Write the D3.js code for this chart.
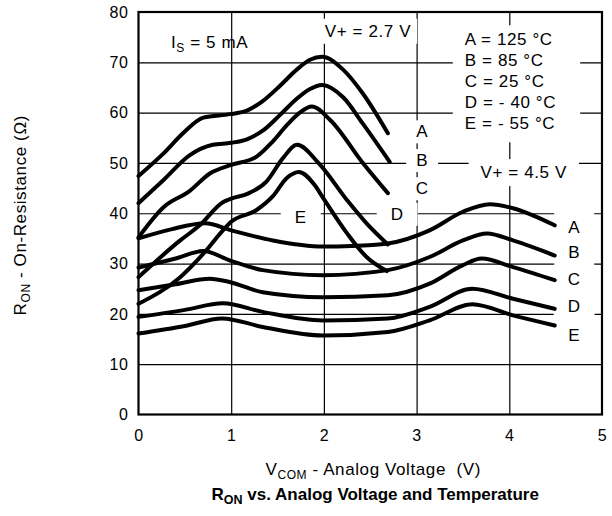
<!DOCTYPE html>
<html>
<head>
<meta charset="utf-8">
<script src="https://cdn.jsdelivr.net/npm/d3@7"></script>
<style>
  body { margin: 0; background: #fff; }
  text { font-family: "Liberation Sans", Arial, sans-serif; fill: #000; white-space: pre; }
</style>
</head>
<body>
<svg id="chart" width="612" height="516"></svg>
<script>
// V+ = 2.7 V curves: [VCOM (V), RON (ohm)]
const a27 = [[0,47.4],[0.27,51.9],[0.48,55.9],[0.7,59],[0.99,59.7],[1.17,60.4],[1.34,62.3],[1.53,65.4],[1.71,68.6],[1.85,70.5],[1.98,71.1],[2.21,68.5],[2.42,63.8],[2.69,55.9]];
const b27 = [[0,42],[0.27,46.6],[0.55,51.5],[0.8,53.6],[1.0,54],[1.17,54.7],[1.34,56.4],[1.53,59.6],[1.71,62.8],[1.85,64.7],[1.98,65.5],[2.21,63],[2.42,57.8],[2.71,50.2]];
const c27 = [[0,35.2],[0.27,41.2],[0.55,44.4],[0.77,47.9],[1.0,49.6],[1.27,51.2],[1.45,54.3],[1.6,57.5],[1.74,60],[1.87,61.2],[2.07,58.5],[2.42,50],[2.69,44]];
const d27 = [[0,27.3],[0.45,34.6],[0.66,37.6],[0.91,42.2],[1.0,42.9],[1.18,43.9],[1.38,46.3],[1.56,51],[1.71,53.6],[1.95,49.8],[2.25,42.6],[2.46,38],[2.69,33.8]];
const e27 = [[0,22],[0.45,27.3],[0.73,32.6],[0.91,36.6],[1.0,38.3],[1.27,40.6],[1.45,43.4],[1.6,47],[1.73,48.2],[1.9,45.6],[2.0,42.8],[2.25,36],[2.46,31.3],[2.68,28.5]];

// V+ = 4.5 V curves
const a45 = [[0,35],[0.35,36.8],[0.72,38],[1.0,36.6],[1.45,34.6],[1.99,33.4],[2.3,33.5],[2.69,34],[3.14,36.6],[3.5,40.3],[3.79,41.8],[4.04,41],[4.49,37.6]];
const b45 = [[0,29.2],[0.4,31],[0.7,32.5],[0.99,30.6],[1.34,28.7],[1.99,27.7],[2.69,28.7],[3.14,31.3],[3.5,34.6],[3.76,36],[4.04,34.6],[4.49,31.6]];
const c45 = [[0,24.7],[0.4,25.9],[0.77,27],[0.99,26.3],[1.34,24.3],[1.99,23.3],[2.69,23.7],[3.14,26],[3.5,29.7],[3.7,31],[4.04,29.3],[4.49,26.7]];
const d45 = [[0,19.4],[0.5,20.8],[0.91,22.1],[1.34,20.4],[1.99,18.7],[2.69,19.1],[3.14,21.4],[3.6,25],[4.04,23],[4.49,21]];
const e45 = [[0,16.1],[0.5,17.6],[0.9,19.1],[1.34,17.4],[1.99,15.7],[2.69,16.4],[3.14,18.7],[3.6,21.9],[4.04,19.7],[4.49,17.7]];

const xTicks = [0, 1, 2, 3, 4, 5];
const yTicks = [0, 10, 20, 30, 40, 50, 60, 70, 80];
const curveNames = ["A", "B", "C", "D", "E"];
const legendLines = ["A = 125 °C", "B = 85 °C", "C = 25 °C", "D = - 40 °C", "E = - 55 °C"];

const svg = d3.select("#chart");
const pLeft = 138.5, pRight = 602, pTop = 12, pBottom = 414.5;

const x = d3.scaleLinear().domain([0, 5]).range([pLeft, pRight]);
const y = d3.scaleLinear().domain([0, 80]).range([pBottom, pTop]);

// Grid lines
svg.append("g")
  .attr("transform", "translate(0," + pBottom + ")")
  .call(d3.axisBottom(x).tickValues(xTicks.slice(1, -1)).tickSize(-(pBottom - pTop)).tickFormat(""))
  .call(g => g.select(".domain").remove())
  .selectAll("line").attr("stroke", "#000").attr("stroke-width", 1.2);
svg.append("g")
  .attr("transform", "translate(" + pLeft + ",0)")
  .call(d3.axisLeft(y).tickValues(yTicks.slice(1, -1)).tickSize(-(pRight - pLeft)).tickFormat(""))
  .call(g => g.select(".domain").remove())
  .selectAll("line").attr("stroke", "#000").attr("stroke-width", 1.2);

// Tick labels
svg.append("g")
  .attr("transform", "translate(0," + pBottom + ")")
  .call(d3.axisBottom(x).tickValues(xTicks).tickSize(0).tickPadding(15).tickFormat(d3.format("d")))
  .call(g => g.select(".domain").remove())
  .selectAll("text").attr("font-size", 16).attr("letter-spacing", 0.6).attr("font-family", "Liberation Sans");
svg.append("g")
  .attr("transform", "translate(" + pLeft + ",0)")
  .call(d3.axisLeft(y).tickValues(yTicks).tickSize(0).tickPadding(10).tickFormat(d3.format("d")))
  .call(g => g.select(".domain").remove())
  .selectAll("text").attr("font-size", 16).attr("letter-spacing", 0.6).attr("font-family", "Liberation Sans");

// Layers: white boxes behind labels, then curves, then labels
const boxLayer = svg.append("g");
const curveLayer = svg.append("g");
const textLayer = svg.append("g").attr("font-size", 17).attr("letter-spacing", 0.6);

function label(str, px, py, anchor, padX, padY) {
  const t = textLayer.append("text")
    .attr("x", px).attr("y", py)
    .attr("text-anchor", anchor || "start")
    .attr("dy", "0.36em")
    .text(str);
  const b = t.node().getBBox();
  boxLayer.append("rect")
    .attr("x", b.x - padX).attr("y", b.y - padY)
    .attr("width", b.width + 2 * padX).attr("height", b.height + 2 * padY)
    .attr("fill", "#fff");
  return t;
}

// Is = 5 mA
const isText = textLayer.append("text").attr("x", x(0.35)).attr("y", y(72.8));
isText.append("tspan").text("I");
isText.append("tspan").attr("font-size", 12).attr("dy", 4).text("S");
isText.append("tspan").attr("dy", -4).text(" = 5 mA");

label("V+ = 2.7 V", x(2.01), y(76.3), "start", 6, 3);

// legend block
const legendG = textLayer.append("g");
legendLines.forEach((s, i) => {
  legendG.append("text").attr("x", x(3.52)).attr("y", y(74.6) + i * 21).attr("dy", "0.36em").text(s);
});
const lb = legendG.node().getBBox();
boxLayer.append("rect").attr("x", lb.x - 12).attr("y", lb.y - 5)
  .attr("width", lb.width + 36).attr("height", lb.height + 14).attr("fill", "#fff");

label("V+ = 4.5 V", x(3.69), y(48.2), "start", 12, 4);

// curve letters for the 2.7 V family
[[3.06, 56.3], [3.06, 50.6], [3.06, 45.0]].forEach((p, i) => label(curveNames[i], x(p[0]), y(p[1]), "middle", 10, 2));
label("D", x(2.79), y(39.9), "middle", 14, 2);
label("E", x(1.75), y(39.2), "middle", 14, 2);

// curve letters for the 4.5 V family
[37.3, 32.3, 27.0, 21.5, 15.9].forEach((v, i) => label(curveNames[i], x(4.7), y(v), "middle", 14, 5));

// Curves
const line = d3.line()
  .x(d => x(d[0]))
  .y(d => y(d[1]))
  .curve(d3.curveMonotoneX);

[a27, b27, c27, d27, e27, a45, b45, c45, d45, e45].forEach(s => {
  curveLayer.append("path")
    .attr("d", line(s))
    .attr("fill", "none")
    .attr("stroke", "#000")
    .attr("stroke-width", 4)
    .attr("stroke-linecap", "round")
    .attr("stroke-linejoin", "round");
});

// Plot border
svg.append("rect")
  .attr("x", pLeft).attr("y", pTop)
  .attr("width", pRight - pLeft).attr("height", pBottom - pTop)
  .attr("fill", "none").attr("stroke", "#000").attr("stroke-width", 2.2);

// Axis titles
const yTitle = svg.append("text")
  .attr("transform", "translate(26," + ((pTop + pBottom) / 2 + 2) + ") rotate(-90)")
  .attr("text-anchor", "middle")
  .attr("font-size", 17).attr("letter-spacing", 0.6);
yTitle.append("tspan").text("R");
yTitle.append("tspan").attr("font-size", 12).attr("dy", 4).text("ON");
yTitle.append("tspan").attr("dy", -4).text(" - On-Resistance (Ω)");

const xTitle = svg.append("text")
  .attr("x", (pLeft + pRight) / 2 + 3).attr("y", 475)
  .attr("text-anchor", "middle")
  .attr("font-size", 17).attr("letter-spacing", 0.6);
xTitle.append("tspan").text("V");
xTitle.append("tspan").attr("font-size", 12).attr("dy", 4).text("COM");
xTitle.append("tspan").attr("dy", -4).text(" - Analog Voltage  (V)");

const title = svg.append("text")
  .attr("x", (pLeft + pRight) / 2 + 5).attr("y", 500)
  .attr("text-anchor", "middle")
  .attr("font-size", 17).attr("font-weight", "bold");
title.append("tspan").text("R");
title.append("tspan").attr("font-size", 12.5).attr("dy", 4).text("ON");
title.append("tspan").attr("dy", -4).text(" vs. Analog Voltage and Temperature");
</script>
</body>
</html>
